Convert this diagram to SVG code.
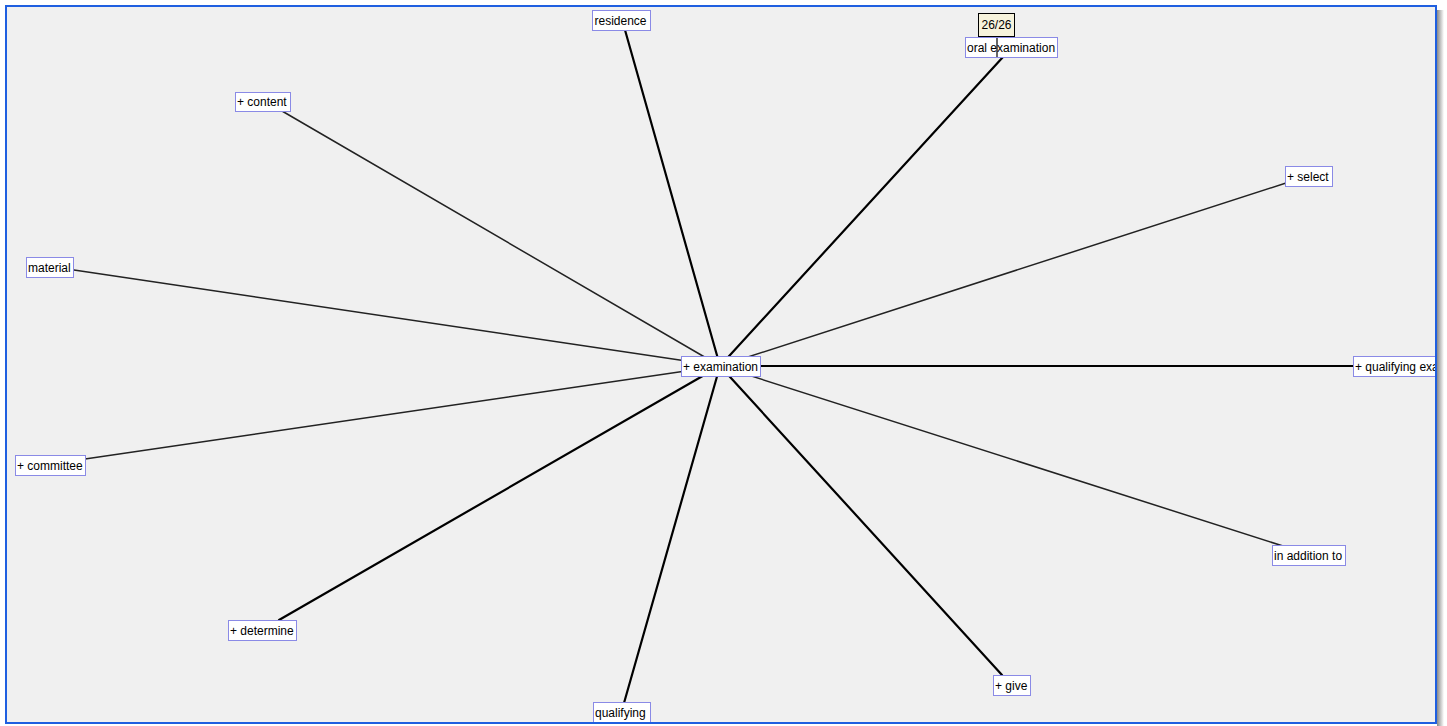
<svg xmlns="http://www.w3.org/2000/svg" width="1447" height="726" viewBox="0 0 1447 726">
<defs>
<style>
.node rect{fill:#ffffff;stroke:#8a8ae6;stroke-width:1}
.node text{font-family:"Liberation Sans",Arial,sans-serif;font-size:12px;fill:#000}
.thick{stroke:#000;stroke-width:2.2;stroke-linecap:round}
.thin{stroke:#222;stroke-width:1.5;stroke-linecap:round}
</style>
<clipPath id="frameClip"><rect x="6" y="6" width="1430" height="717"/></clipPath>
<linearGradient id="shR" x1="0" y1="0" x2="1" y2="0">
<stop offset="0" stop-color="#888"/><stop offset="1" stop-color="#fff"/>
</linearGradient>
</defs>
<rect x="0" y="0" width="1447" height="726" fill="#ffffff"/>
<rect x="1437" y="10" width="7" height="716" fill="url(#shR)"/>
<rect x="6" y="6" width="1430" height="717" fill="#f0f0f0"/>
<g clip-path="url(#frameClip)">
<g id="connectors">
<line class="thick" x1="720" y1="366" x2="625" y2="30"/>
<line class="thick" x1="720" y1="366" x2="1003" y2="57"/>
<line class="thin" x1="720" y1="366" x2="282" y2="111"/>
<line class="thin" x1="720" y1="366" x2="1286" y2="183"/>
<line class="thick" x1="720" y1="366" x2="1353" y2="366"/>
<line class="thin" x1="720" y1="366" x2="74" y2="270"/>
<line class="thin" x1="720" y1="366" x2="85" y2="459"/>
<line class="thick" x1="720" y1="366" x2="279" y2="620"/>
<line class="thick" x1="720" y1="366" x2="624" y2="703"/>
<line class="thick" x1="720" y1="366" x2="1002" y2="675"/>
<line class="thin" x1="720" y1="366" x2="1283" y2="546"/>
</g>
<g id="n-residence" class="node"><rect x="592.5" y="10.5" width="58" height="20"/><text x="594.5" y="24.5">residence</text></g>
<g id="n-oral" class="node"><rect x="965.5" y="37.5" width="92" height="20"/><text x="967" y="51.5">oral examination</text></g>
<g id="n-content" class="node"><rect x="235.5" y="92.5" width="55" height="19"/><text x="237" y="106">+ content</text></g>
<g id="n-select" class="node"><rect x="1285.5" y="166.5" width="47" height="20"/><text x="1287" y="180.5">+ select</text></g>
<g id="n-material" class="node"><rect x="26.5" y="257.5" width="47" height="20"/><text x="28" y="271.5">material</text></g>
<g id="n-examination" class="node"><rect x="681.5" y="356.5" width="79" height="20"/><text x="683" y="370.5">+ examination</text></g>
<g id="n-qualexam" class="node"><rect x="1353.5" y="356.5" width="100" height="20"/><text x="1355" y="370.5">+ qualifying examination</text></g>
<g id="n-committee" class="node"><rect x="15.5" y="455.5" width="70" height="20"/><text x="17" y="469.5">+ committee</text></g>
<g id="n-inaddition" class="node"><rect x="1272.5" y="545.5" width="73" height="20"/><text x="1274" y="559.5">in addition to</text></g>
<g id="n-determine" class="node"><rect x="228.5" y="620.5" width="68" height="20"/><text x="230" y="634.5">+ determine</text></g>
<g id="n-give" class="node"><rect x="993.5" y="675.5" width="37" height="20"/><text x="995" y="689.5">+ give</text></g>
<g id="n-qualifying" class="node"><rect x="593.5" y="702.5" width="57" height="20"/><text x="595" y="716.5">qualifying</text></g>
<g id="tooltip"><rect x="978.5" y="13.5" width="36" height="23" fill="#f7f3dc" stroke="#000" stroke-width="1"/><text x="996.5" y="29" text-anchor="middle" font-family="'Liberation Sans',Arial,sans-serif" font-size="12px" fill="#000">26/26</text></g>
<line x1="997" y1="38" x2="997" y2="57" stroke="#000" stroke-width="1.2"/>
</g>
<rect x="6" y="6" width="1430" height="717" fill="none" stroke="#1f5fe0" stroke-width="2"/>
</svg>
